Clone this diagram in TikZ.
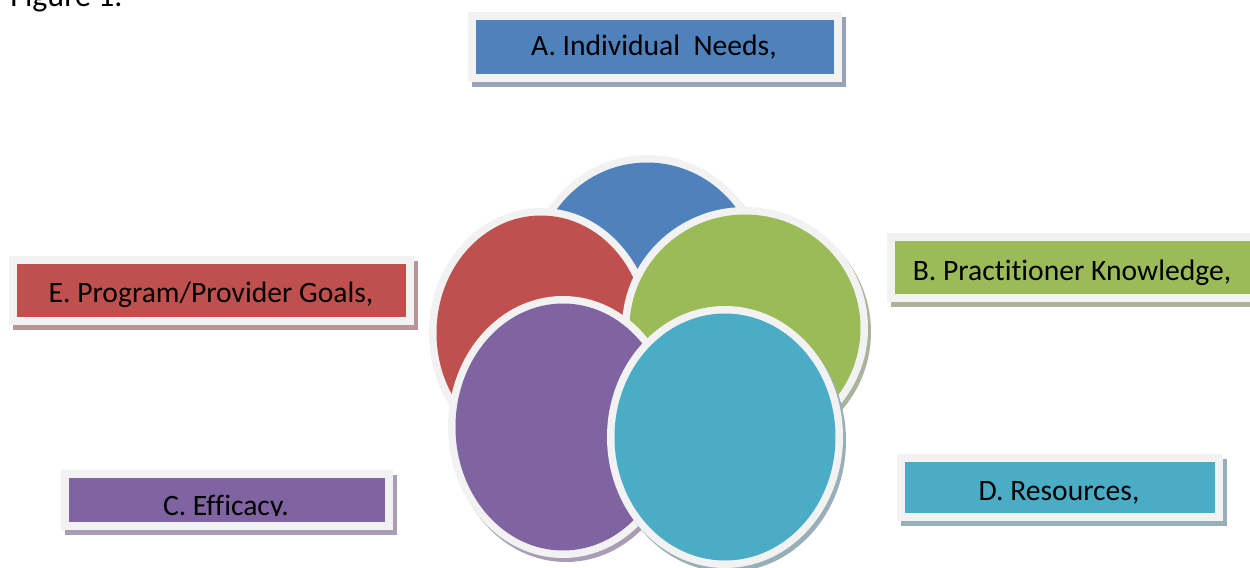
\documentclass[tikz,border=0pt]{standalone}
\usepackage{fontspec}
\setmainfont{Carlito}[Ligatures=NoCommon]
\usetikzlibrary{calc}
\definecolor{framegray}{HTML}{F2F2F2}
\definecolor{cBlue}{HTML}{4F81BD}
\definecolor{cRed}{HTML}{C0504D}
\definecolor{cGreen}{HTML}{9BBB59}
\definecolor{cPurple}{HTML}{8064A2}
\definecolor{cTeal}{HTML}{4BACC6}
\definecolor{sBlue}{HTML}{96A3B8}
\definecolor{sRed}{HTML}{B89494}
\definecolor{sGreen}{HTML}{ABB39C}
\definecolor{sPurple}{HTML}{A89DB5}
\definecolor{sTeal}{HTML}{98AFB8}
\tikzset{
  lbl/.style={inner sep=0pt, anchor=base, font=\fontsize{14.8}{18}\selectfont, text=black},
}
% a framed ellipse: shadow, light frame, coloured face
\newcommand\framedDisc[6]{%
  \fill[#6] ($(#1,#2)+(3,4)$) ellipse ({#3*0.5pt} and {#4*0.5pt});
  \fill[framegray] (#1,#2) ellipse ({#3*0.5pt} and {#4*0.5pt});
  \fill[#5] (#1,#2) ellipse ({(#3-7.5)*0.5pt} and {(#4-7.5)*0.5pt});
}
% a framed label box: shadow, light frame, coloured face
\newcommand\framedBox[4]{%
  \fill[#4] ($(#1)+(4,5)$) rectangle ($(#2)+(4,5)$);
  \fill[framegray] (#1) rectangle (#2);
  \fill[#3] ($(#1)+(8,7.5)$) rectangle ($(#2)+(-8,-8)$);
}
\begin{document}
\begin{tikzpicture}[x=0.5pt,y=-0.5pt]
\useasboundingbox (0,0) rectangle (1250,568);
\clip (0,0) rectangle (1250,568);

% caption, cut by the top edge
\node[lbl, anchor=base west, font=\fontsize{16}{19}\selectfont] (caption) at (10,6) {Figure 1.};

% overlapping discs
\framedDisc{647}{279}{120}{124}{cBlue}{sBlue}
\framedDisc{541}{333}{112}{125}{cRed}{sRed}
\framedDisc{745}{328}{123}{121}{cGreen}{sGreen}
\framedDisc{563}{427}{115}{131}{cPurple}{sPurple}
\framedDisc{725}{437}{118}{131}{cTeal}{sTeal}

% label boxes
\framedBox{468,12}{842,82}{cBlue}{sBlue}
\node[lbl] (needs) at (654,55) {A. Individual\ \ Needs,};

\framedBox{887,233}{1259,302}{cGreen}{sGreen}
\node[lbl] (knowledge) at (1072,280) {B. Practitioner Knowledge,};

\framedBox{61,470}{393,530}{cPurple}{sPurple}
\begin{scope}
  \clip (69,478) rectangle (385,515.5);
  \node[lbl] (efficacy) at (226,515) {C. Efficacy.};
\end{scope}

\framedBox{897,454}{1223,521}{cTeal}{sTeal}
\node[lbl] (resources) at (1059,500) {D. Resources,};

\framedBox{9,256}{414,325}{cRed}{sRed}
\node[lbl] (goals) at (211,302) {E. Program/Provider Goals,};
\end{tikzpicture}
\end{document}
